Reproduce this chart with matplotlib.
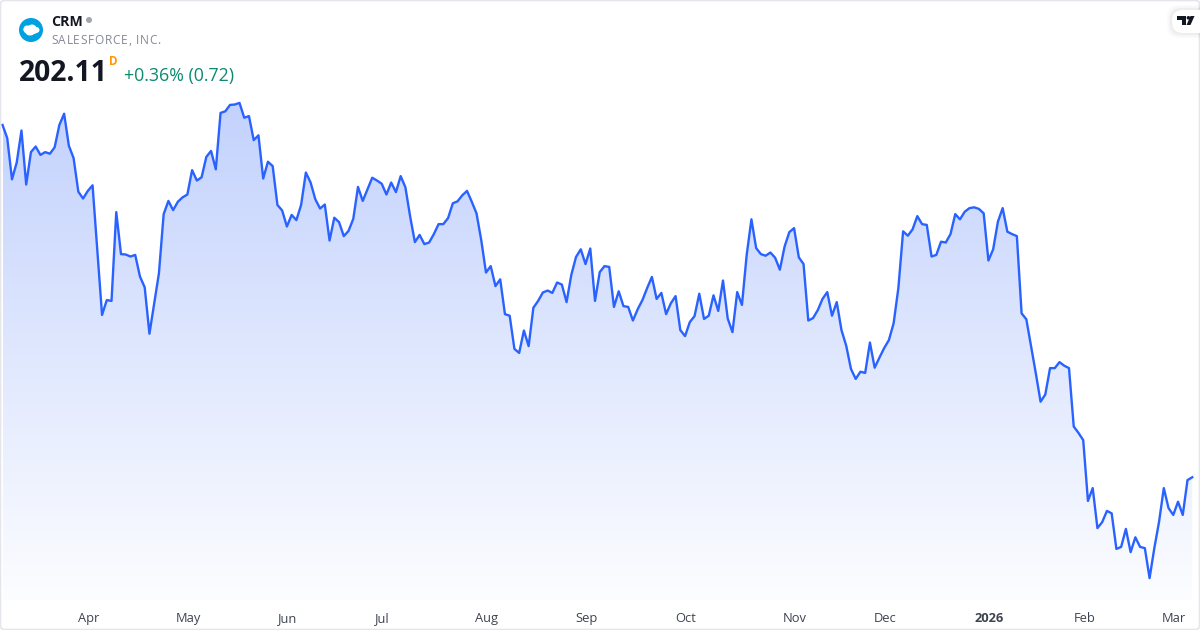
import numpy as np
import matplotlib
matplotlib.use("Agg")
import matplotlib.pyplot as plt
from matplotlib.patches import Circle, Ellipse, FancyBboxPatch, Polygon
from matplotlib.colors import LinearSegmentedColormap

prices = [
290.2,286.9,276.6,280.8,288.8,275.3,283.4,284.8,282.7,283.4,283.0,284.6,290.2,293.0,285.0,281.9,273.5,271.8,273.7,275.1,
258.9,242.7,246.4,246.2,268.4,257.9,257.8,257.3,257.7,252.3,249.6,238.0,245.6,253.1,267.9,271.2,268.9,271.0,272.1,272.8,
278.9,276.3,277.1,282.2,283.7,279.1,293.2,293.6,295.2,295.3,295.7,292.0,292.4,286.4,287.6,276.8,281.0,279.9,270.2,268.8,
264.8,267.7,266.4,270.2,278.3,275.8,271.6,269.3,270.3,261.3,267.0,265.9,262.4,263.7,266.7,274.7,271.2,274.1,277.0,276.3,
275.5,272.8,275.8,273.4,277.4,274.6,267.3,260.9,262.7,260.4,260.8,262.9,265.4,265.4,266.9,270.6,271.1,272.6,273.7,271.0,
268.1,261.4,253.3,254.9,249.9,251.6,242.9,242.5,234.2,233.2,238.8,234.9,244.5,246.2,248.3,248.8,248.2,250.8,250.3,245.9,
252.7,257.2,259.1,255.4,259.3,246.2,253.4,254.9,254.7,244.7,248.6,244.9,244.7,241.3,244.1,246.4,249.4,252.2,246.7,248.2,
242.9,245.6,247.4,238.9,237.4,240.9,242.4,248.0,241.7,242.5,247.6,243.7,251.3,241.8,238.4,248.4,245.2,257.7,266.6,259.4,
257.9,257.5,258.3,257.0,254.0,259.8,263.4,264.4,257.1,255.4,241.3,241.9,243.9,246.7,248.4,242.5,245.9,238.9,235.0,229.2,
226.7,228.5,228.2,235.8,229.5,232.0,234.4,236.4,240.6,249.4,263.6,262.5,264.1,267.4,265.4,265.2,257.3,257.7,261.0,260.8,
262.9,267.9,266.6,268.5,269.4,269.6,269.2,268.1,256.3,259.1,266.0,269.4,263.5,262.9,262.4,243.1,241.6,234.8,228.1,221.0,
222.8,229.4,229.4,230.9,230.0,229.4,214.8,213.2,211.4,196.2,199.4,189.4,190.9,193.7,193.1,184.2,184.7,189.2,183.4,187.1,
184.7,184.4,176.9,184.4,191.0,199.4,194.4,192.7,196.0,192.7,201.4,202.11,
]
tick_days = [18, 39, 60, 80, 102, 123, 144, 167, 186, 208, 228, 247]
tick_labels = ["Apr", "May", "Jun", "Jul", "Aug", "Sep", "Oct", "Nov", "Dec", "2026", "Feb", "Mar"]
ticker = "CRM"
company = "SALESFORCE, INC."
last_price = "202.11"
change_text = "+0.36% (0.72)"

FONT = "Open Sans"
plt.rcParams["font.family"] = [FONT, "DejaVu Sans"]
W, H = 1200, 630
fig = plt.figure(figsize=(W / 100, H / 100), dpi=100, facecolor="white")

# main chart
ax = fig.add_axes([0, 28 / H, 1, 602 / H])
days = np.arange(len(prices))
step = 4.74
ax.set_xlim(-2.5 / step, (W - 2.5) / step)
ax.set_ylim(170.93, 321.43)
for s in ax.spines.values():
    s.set_visible(False)
ax.set_yticks([])
ax.set_xticks(np.array(tick_days) + 0.2)
ax.set_xticklabels(tick_labels, fontsize=9.3, color="#3e4350")
ax.tick_params(axis="x", length=0, pad=7.3)
ax.get_xticklabels()[tick_labels.index("2026")].set_fontweight("bold")

cmap = LinearSegmentedColormap.from_list("fade", ["#c3d2fd", "#fcfdff"])
grad = np.linspace(0, 1, 512).reshape(-1, 1)
im = ax.imshow(grad, cmap=cmap, aspect="auto", origin="upper", zorder=1,
               extent=(days[0], days[-1], 171.5, max(prices)))
ax.set_xlim(-2.5 / step, (W - 2.5) / step)
ax.set_ylim(170.93, 321.43)
poly = ax.fill_between(days, prices, 171.5, color="none")
im.set_clip_path(poly.get_paths()[0], transform=ax.transData)
ax.plot(days, prices, color="#2962ff", lw=1.7, solid_joinstyle="round", zorder=3)

# overlay in pixel coordinates
ov = fig.add_axes([0, 0, 1, 1], facecolor="none")
ov.set_xlim(0, W)
ov.set_ylim(H, 0)
ov.axis("off")
ov.add_patch(FancyBboxPatch((0.5, 0.5), W - 1, H - 1, boxstyle="round,pad=0,rounding_size=4",
                            fc="none", ec="#e4e6ec", lw=1.2))
# logo
ov.add_patch(Circle((31, 30), 12, fc="#00a1e0", ec="none"))
for cx, cy, w, h in [(31, 30, 15, 9), (27, 29, 7, 7), (32, 27.5, 8, 6), (36, 30, 7, 6), (30, 33, 8, 5)]:
    ov.add_patch(Ellipse((cx, cy), w, h, fc="white", ec="none"))
ov.add_patch(Circle((89, 20), 3, fc="#a3a6af", ec="none"))

ov.text(51, 21.5, ticker, fontsize=10.2, fontweight="bold", color="#131722", va="center", ha="left")

# company name is letter-spaced in the reference
renderer = fig.canvas.get_renderer()
cx = 51.0
for ch in company:
    t = ov.text(cx, 41, ch, fontsize=8.6, color="#868993", va="center", ha="left")
    probe = ov.text(0, 0, ch + "|", fontsize=8.6, alpha=0)
    bar = ov.text(0, 0, "|", fontsize=8.6, alpha=0)
    adv = probe.get_window_extent(renderer).width - bar.get_window_extent(renderer).width
    probe.remove()
    bar.remove()
    cx += adv + 0.68

ov.text(19, 73.2, last_price, fontsize=20.3, fontweight="bold", color="#131722", va="center", ha="left")
ov.text(109, 61.5, "D", fontsize=8.4, fontweight="bold", color="#ff9800", va="center", ha="left")
ov.text(124, 75.5, change_text, fontsize=12.8, color="#0b8a70", va="center", ha="left")

# TradingView badge
for pad, a in [(5, 0.015), (3.5, 0.02), (2, 0.03)]:
    ov.add_patch(FancyBboxPatch((1172 - pad, 10 - pad), 40 + pad, 23 + 2 * pad,
                                boxstyle="round,pad=0,rounding_size=11", fc="black", alpha=a, ec="none"))
ov.add_patch(FancyBboxPatch((1172, 10), 40, 23, boxstyle="round,pad=0,rounding_size=11", fc="white", ec="none"))
ink = "#131722"
ov.add_patch(Polygon([(1177, 16), (1186, 16), (1186, 25), (1181.5, 25), (1181.5, 19.5), (1177, 19.5)], fc=ink, ec="none"))
ov.add_patch(Circle((1188.4, 17.8), 1.8, fc=ink, ec="none"))
ov.add_patch(Polygon([(1186.5, 25), (1190.5, 16), (1194.5, 16), (1190.5, 25)], fc=ink, ec="none"))

fig.savefig("out.png", dpi=100, facecolor="white")
